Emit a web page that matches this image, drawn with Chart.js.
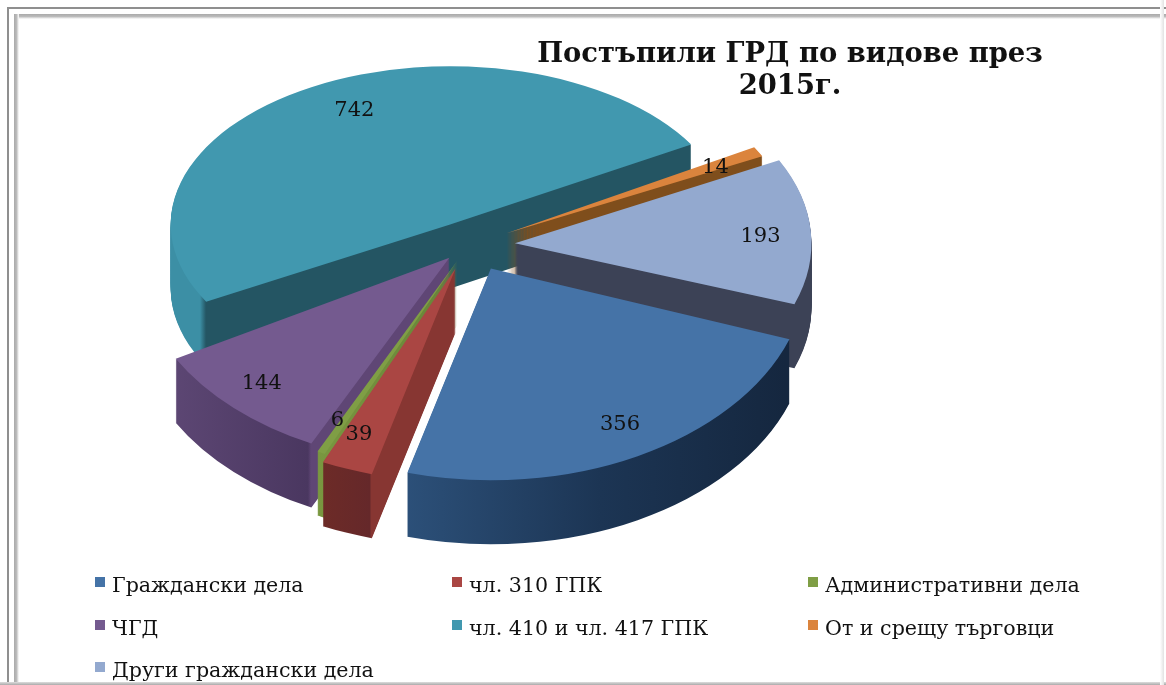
<!DOCTYPE html>
<html><head><meta charset="utf-8">
<script src="https://cdn.jsdelivr.net/npm/chart.js@4"></script>
<style>
html,body{margin:0;padding:0;background:#fff;overflow:hidden}
#wrap{position:relative;width:1166px;height:685px;overflow:hidden}
canvas{position:absolute;left:0;top:0}
.f{position:absolute;pointer-events:none}
</style></head><body>
<div id="wrap">
<canvas id="c" width="1166" height="685"></canvas>
<div class="f" style="left:7px;top:7px;width:1160px;height:2px;background:#8f8f8f"></div>
<div class="f" style="left:7px;top:7px;width:2px;height:680px;background:#8f8f8f"></div>
<div class="f" style="left:14px;top:14px;width:1152px;height:5px;background:linear-gradient(#aaa,#bbb 50%,#fff)"></div>
<div class="f" style="left:14px;top:14px;width:5px;height:671px;background:linear-gradient(90deg,#aaa,#bbb 50%,#fff)"></div>
<div class="f" style="left:0;top:682px;width:1166px;height:3px;background:linear-gradient(#ddd,#aaa)"></div>
<div class="f" style="left:1160px;top:0;width:4px;height:685px;background:linear-gradient(90deg,#fff,#e2e2e2)"></div>
</div>
<script>
const categories = ['Граждански дела','чл. 310 ГПК','Административни дела','ЧГД','чл. 410 и чл. 417 ГПК','От и срещу търговци','Други граждански дела'];
const values = [356,39,6,144,742,14,193];
const titleLines = ['Постъпили ГРД по видове през','2015г.'];
const topColors = ['#4573a7','#aa4643','#7f9e45','#745a8f','#4198af','#db843d','#93a9cf'];
const explode = [45,42,30,30,40,41,45];
const labelReach = [0.88,0.89,0.88,0.87,0.69,0.83,0.83];
const wallStops = [
  [[405,'#2c5079'],[600,'#1c3554'],[785,'#15273f']],
  [[322,'#6d2b27'],[370,'#65282a'],[371,'#873632'],[465,'#873632']],
  [[312,'#7a9840'],[460,'#668238']],
  [[175,'#5c4673'],[308,'#4a3760'],[311,'#5f4675'],[450,'#5f4675']],
  [[170,'#3c8fa5'],[200,'#3c8fa5'],[206,'#245563'],[700,'#245563']],
  [[500,'#7f4e1c'],[760,'#7f4e1c']],
  [[510,'#3c4256'],[810,'#3c4256']]
];
const drawOrder = [4,5,6,3,2,1,0];
const CX=470, CY=245, RADIUS=304, RATIO=0.59, DEPTH=64;
const SERIF='"DejaVu Serif", serif';
const legendCols=[95,452,808], legendRows=[587,630,672];

function place(el,i){
  const mid=(el.startAngle+el.endAngle)/2, s=Math.sin(mid), b=RADIUS/el.outerRadius;
  return {
    kx:b*(0.98+0.07*s),
    ky:b*RATIO*(1.03+0.17*s),
    mid,
    ox:CX+explode[i]*Math.cos(mid),
    oy:CY+explode[i]*RATIO*s
  };
}
const pie3d={
  id:'pie3d',
  beforeDraw(chart){
    const t=chart.titleBlock;
    t.left=490; t.right=1090; t.top=38;
  },
  beforeDatasetDraw(chart,args){
    const ctx=chart.ctx, els=args.meta.data;
    drawOrder.forEach(i=>{
      const el=els[i], base=el.options, {kx,ky,ox,oy}=place(el,i);
      const toUser=X=>(X-ox)/kx+el.x;
      const stops=wallStops[i], x0=stops[0][0], x1=stops[stops.length-1][0];
      const g=ctx.createLinearGradient(toUser(x0),0,toUser(x1),0);
      stops.forEach(s=>g.addColorStop((s[0]-x0)/(x1-x0),s[1]));
      const wall=Object.create(base); wall.backgroundColor=g; wall.borderColor=g;
      const paint=(dy,opt)=>{
        el.options=opt;
        ctx.save();
        ctx.translate(ox,oy+dy);
        ctx.scale(kx,ky);
        ctx.translate(-el.x,-el.y);
        el.draw(ctx);
        ctx.restore();
      };
      for(let d=DEPTH;d>=1;d--) paint(d,wall);
      paint(0,base);
      el.options=base;
    });
    return false;
  },
  afterDatasetsDraw(chart){
    const ctx=chart.ctx, els=chart.getDatasetMeta(0).data;
    ctx.save();
    ctx.fillStyle='#111'; ctx.textAlign='center'; ctx.textBaseline='middle';
    ctx.font='21px '+SERIF;
    els.forEach((el,i)=>{
      const {kx,ky,mid,ox,oy}=place(el,i);
      const R=el.outerRadius, fy=0.835-0.02*Math.sin(mid);
      ctx.fillText(String(values[i]),ox+kx*labelReach[i]*R*Math.cos(mid),oy+ky*fy*R*Math.sin(mid)+3);
    });
    ctx.font='20.6px '+SERIF; ctx.textAlign='left';
    categories.forEach((c,i)=>{
      const x=legendCols[i%3], y=legendRows[Math.floor(i/3)];
      ctx.fillStyle=topColors[i];
      ctx.fillRect(x,y-10,10,10);
      ctx.fillStyle='#111';
      ctx.fillText(c,x+17,y);
    });
    ctx.restore();
  }
};
new Chart(document.getElementById('c'),{
  type:'pie',
  data:{labels:categories,datasets:[{data:values,backgroundColor:topColors,borderWidth:0}]},
  options:{
    responsive:false,animation:false,rotation:109.5,
    plugins:{
      legend:{display:false},tooltip:{enabled:false},
      title:{display:true,text:titleLines,color:'#111',padding:0,font:{family:SERIF,size:27.4,weight:'bold',lineHeight:1.2}}
    }
  },
  plugins:[pie3d]
});
</script>
</body></html>
